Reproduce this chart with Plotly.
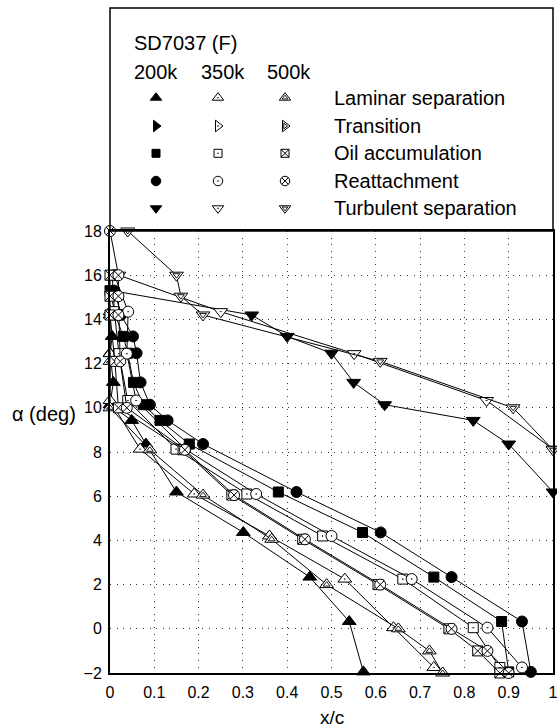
import plotly.graph_objects as go

# ---------------- data ----------------
alpha_200k = [-1.95, 0.33, 2.34, 4.36, 6.19, 8.36, 9.43, 10.14, 11.15, 12.47, 13.23, 14.2, 15.3]
lam_sep_200k = [0.572, 0.54, 0.451, 0.301, 0.150, 0.081, 0.049, 0.0, 0.0075, 0.0, 0.005, None, None]
oil_acc_200k = [0.90, 0.884, 0.731, 0.570, 0.380, 0.179, 0.113, 0.075, 0.053, 0.04, 0.03, 0.012, 0.0]
reatt_200k = [0.95, 0.93, 0.771, 0.611, 0.421, 0.210, 0.130, 0.090, 0.069, 0.060, 0.052, 0.025, 0.01]
turb_sep_200k = [None, None, None, None, 1.0, 0.90, 0.82, 0.62, 0.55, 0.50, 0.40, 0.32, 0.005]

alpha_350k = [-1.75, 0.05, 2.25, 4.2, 6.1, 8.13, 10.33, 12.45, 14.35, 16.0]
lam_sep_350k = [0.731, 0.64, 0.53, 0.36, 0.19, 0.068, 0.0, 0.0, 0.0, None]
oil_acc_350k = [0.88, 0.82, 0.661, 0.48, 0.309, 0.149, 0.04, 0.02, 0.01, 0.005]
reatt_350k = [0.93, 0.852, 0.681, 0.50, 0.33, 0.17, 0.059, 0.038, 0.041, 0.01]
turb_sep_350k = [None, None, None, None, None, 1.0, 0.85, 0.551, 0.25, 0.02]

alpha_500k = [-2.0, -1.0, 0.0, 2.0, 4.05, 6.05, 8.1, 10.0, 12.1, 14.2, 15.05, 16.0, 18.0]
lam_sep_500k = [0.751, 0.721, 0.651, 0.489, 0.365, 0.21, 0.09, 0.0, 0.0, 0.0, None, None, None]
oil_acc_500k = [0.88, 0.83, 0.765, 0.605, 0.435, 0.275, 0.165, 0.019, 0.011, 0.0, 0.0, 0.0, None]
reatt_500k = [0.90, 0.852, 0.771, 0.61, 0.44, 0.28, 0.169, 0.038, 0.023, 0.019, 0.019, 0.019, 0.0]
turb_sep_500k = [None, None, None, None, None, None, 1.0, 0.91, 0.61, 0.21, 0.16, 0.15, 0.04]

reynolds_labels = ["200k", "350k", "500k"]
legend_labels = ["Laminar separation", "Transition", "Oil accumulation", "Reattachment", "Turbulent separation"]
base_symbols = ["triangle-up", "triangle-right", "square", "circle", "triangle-down"]
x_ticks = [0, 0.1, 0.2, 0.3, 0.4, 0.5, 0.6, 0.7, 0.8, 0.9, 1]
x_ticktext = ["0", "0.1", "0.2", "0.3", "0.4", "0.5", "0.6", "0.7", "0.8", "0.9", "1"]
y_ticks = [-2, 0, 2, 4, 6, 8, 10, 12, 14, 16, 18]

FONT = "Liberation Sans, Arial, sans-serif"

# ---------------- geometry ----------------
W, H = 557, 728
ML, MR, MT, MB = 110, 4, 8, 55
plot_h = H - MT - MB
main_top = (673 - 231) / plot_h
legend_h = 231 - MT


def style(symbol, re_idx, size):
    """Return (main marker dict, inner overlay marker dict or None)."""
    if re_idx == 0:
        return dict(symbol=symbol, size=size, color="black", line=dict(color="black", width=1)), None
    if re_idx == 1:
        return dict(symbol=symbol + "-dot", size=size, color="white", line=dict(color="black", width=1)), None
    if symbol in ("circle", "square"):
        return dict(symbol=symbol + "-x", size=size, color="white", line=dict(color="black", width=1)), None
    outer = dict(symbol=symbol, size=size, color="white", line=dict(color="black", width=1))
    inner = dict(symbol=symbol + "-open", size=size * 0.5, color="black", line=dict(color="black", width=0.9))
    return outer, inner


fig = go.Figure()

series = [
    (alpha_200k, [lam_sep_200k, None, oil_acc_200k, reatt_200k, turb_sep_200k]),
    (alpha_350k, [lam_sep_350k, None, oil_acc_350k, reatt_350k, turb_sep_350k]),
    (alpha_500k, [lam_sep_500k, None, oil_acc_500k, reatt_500k, turb_sep_500k]),
]
plot_sizes = {"triangle-up": 12, "triangle-right": 12, "triangle-down": 12, "square": 10, "circle": 11}

for re_idx, (alphas, cols) in enumerate(series):
    for k, xs in enumerate(cols):
        if xs is None:
            continue
        sym = base_symbols[k]
        outer, inner = style(sym, re_idx, plot_sizes[sym])
        fig.add_trace(go.Scatter(
            x=xs, y=alphas, mode="lines+markers",
            line=dict(color="black", width=1), marker=outer,
            cliponaxis=False, showlegend=False, hoverinfo="skip"))
        if inner is not None:
            fig.add_trace(go.Scatter(
                x=xs, y=alphas, mode="markers", marker=inner,
                cliponaxis=False, showlegend=False, hoverinfo="skip"))

# ---------------- hand-made legend (in its own pixel-based axes) ----------------
legend_cols_x = [46, 108, 175]
legend_rows_y = [89.7, 118, 145.3, 173, 200.3]
legend_sizes = {"triangle-up": 10, "triangle-right": 10, "triangle-down": 10, "square": 8, "circle": 9.5}

for r, sym in enumerate(base_symbols):
    for c in range(3):
        outer, inner = style(sym, c, legend_sizes[sym])
        fig.add_trace(go.Scatter(
            x=[legend_cols_x[c]], y=[legend_rows_y[r]], mode="markers", marker=outer,
            xaxis="x2", yaxis="y2", showlegend=False, hoverinfo="skip", cliponaxis=False))
        if inner is not None:
            fig.add_trace(go.Scatter(
                x=[legend_cols_x[c]], y=[legend_rows_y[r]], mode="markers", marker=inner,
                xaxis="x2", yaxis="y2", showlegend=False, hoverinfo="skip", cliponaxis=False))

annotations = []
annotations.append(dict(text="SD7037 (F)", x=22, y=35, xref="x2", yref="y2",
                        xanchor="left", yanchor="middle", showarrow=False,
                        font=dict(family=FONT, size=20, color="black")))
for c, lab in enumerate(reynolds_labels):
    annotations.append(dict(text=lab, x=[22, 89, 155][c], y=64, xref="x2", yref="y2",
                            xanchor="left", yanchor="middle", showarrow=False,
                            font=dict(family=FONT, size=20, color="black")))
for r, lab in enumerate(legend_labels):
    annotations.append(dict(text=lab, x=222, y=legend_rows_y[r], xref="x2", yref="y2",
                            xanchor="left", yanchor="middle", showarrow=False,
                            font=dict(family=FONT, size=20, color="black")))

annotations.append(dict(text="x/c", x=0.5, y=(673 - 717) / plot_h, xref="paper", yref="paper",
                        xanchor="center", yanchor="middle", showarrow=False,
                        font=dict(family=FONT, size=19, color="black")))
annotations.append(dict(text="α (deg)", x=(44 - ML) / (W - ML - MR), y=(673 - 414) / plot_h,
                        xref="paper", yref="paper", xanchor="center", yanchor="middle",
                        showarrow=False, font=dict(family=FONT, size=20, color="black")))

axis_common = dict(
    showgrid=True, gridcolor="#333333", gridwidth=1, griddash="1px,5.6px",
    showline=True, linecolor="black", linewidth=2, mirror=True,
    zeroline=False, automargin=False, ticklabeloverflow="allow",
    tickfont=dict(family=FONT, size=16, color="black"),
)

fig.update_layout(
    width=W, height=H,
    margin=dict(l=ML, r=MR, t=MT, b=MB, pad=0),
    paper_bgcolor="white", plot_bgcolor="white",
    xaxis=dict(range=[0, 1], domain=[0, 1], tickvals=x_ticks, ticktext=x_ticktext,
               ticks="outside", ticklen=4, tickcolor="rgba(0,0,0,0)", anchor="y", **axis_common),
    yaxis=dict(range=[-2, 18], domain=[0, main_top], tickvals=y_ticks,
               ticks="outside", ticklen=3, tickcolor="rgba(0,0,0,0)", anchor="x", **axis_common),
    xaxis2=dict(range=[0, W - ML - MR], domain=[0, 1], anchor="y2", visible=False, fixedrange=True),
    yaxis2=dict(range=[legend_h, 0], domain=[main_top, 1],
                anchor="x2", visible=False, fixedrange=True),
    annotations=annotations,
    shapes=[dict(type="rect", xref="paper", yref="paper", x0=0, x1=1, y0=main_top, y1=1,
                 line=dict(color="black", width=1.5), fillcolor="rgba(0,0,0,0)")],
)

fig.write_html("out.html")
